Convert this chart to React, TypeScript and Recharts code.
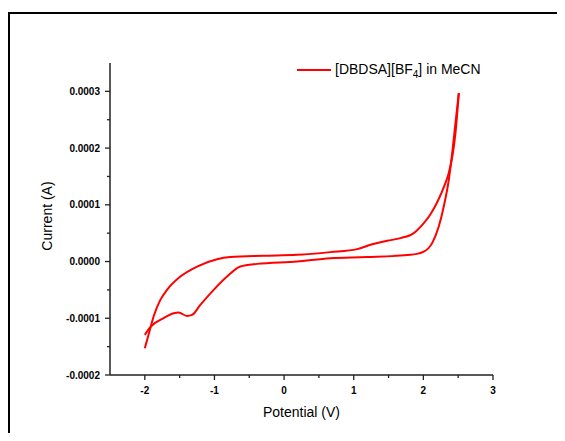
import { LineChart, Line, XAxis, YAxis, Legend } from 'recharts';

// forward-going branch (reaches the anodic tip through the upper curve)
const upperPotential = [-2.0, -1.921, -1.874, -1.777, -1.681, -1.49, -1.25, -0.963, -0.772, -0.297, 0.187, 0.665, 1.049, 1.24, 1.48, 1.671, 1.862, 2.006, 2.1, 2.2, 2.3, 2.365, 2.42, 2.461, 2.509];
const upperCurrent = [-0.0001527, -0.0001175, -0.000097, -0.0000675, -0.0000499, -0.0000265, -0.0000088, 0.0000042, 0.0000078, 0.0000101, 0.0000118, 0.0000166, 0.0000219, 0.0000295, 0.0000365, 0.0000413, 0.0000501, 0.0000677, 0.000083, 0.000105, 0.000133, 0.000156, 0.000188, 0.0002265, 0.000297];

// lower branch with the small cathodic wave near -1.5 V
const lowerPotential = [-2.0, -1.921, -1.73, -1.586, -1.514, -1.394, -1.322, -1.203, -1.011, -0.819, -0.628, -0.388, 0.187, 0.665, 1.193, 1.815, 2.006, 2.126, 2.221, 2.293, 2.365, 2.414, 2.461, 2.509];
const lowerCurrent = [-0.0001293, -0.0001157, -0.0000998, -0.000091, -0.00009, -0.0000958, -0.000094, -0.0000764, -0.0000499, -0.0000265, -0.0000088, -0.0000041, 0.0, 0.000006, 0.0000078, 0.0000118, 0.0000176, 0.0000325, 0.0000617, 0.000097, 0.0001441, 0.0001912, 0.0002441, 0.000297];

const xTicks = [-2.5, -2, -1.5, -1, -0.5, 0, 0.5, 1, 1.5, 2, 2.5, 3];
const yTicks = [-0.0002, -0.00015, -0.0001, -0.00005, 0, 0.00005, 0.0001, 0.00015, 0.0002, 0.00025, 0.0003];

const upperData = upperPotential.map((v, i) => ({ v, i: upperCurrent[i] }));
const lowerData = lowerPotential.map((v, i) => ({ v, i: lowerCurrent[i] }));

const RED = '#ff0000';
const AXIS = '#222';
const FONT = 'Arial, "Liberation Sans", sans-serif';

const XTick = (props: any) => {
    const { x, y, payload } = props;
    const val = payload.value;
    const major = Math.abs(val - Math.round(val)) < 1e-6;
    if (val < -2.4) return null;
    return (
        <g>
            <line x1={x} x2={x} y1={y} y2={y + (major ? 5 : 3)} stroke={AXIS} strokeWidth={1.3} />
            {major && (
                <text x={x} y={y + 15} textAnchor="middle" dominantBaseline="central" fontSize={10} fontWeight="bold" fontFamily={FONT} fill="#000">
                    {val}
                </text>
            )}
        </g>
    );
};

const YTick = (props: any) => {
    const { x, y, payload } = props;
    const val = payload.value;
    const major = Math.round(val * 1e5) % 10 === 0;
    return (
        <g>
            <line x1={x} x2={x - (major ? 5 : 3)} y1={y} y2={y} stroke={AXIS} strokeWidth={1.3} />
            {major && (
                <text x={x - 10} y={y} textAnchor="end" dominantBaseline="central" fontSize={10} fontWeight="bold" fontFamily={FONT} fill="#000">
                    {val.toFixed(4)}
                </text>
            )}
        </g>
    );
};

const LegendBox = () => (
    <div style={{ display: 'flex', alignItems: 'center', fontFamily: FONT, fontSize: 14, color: '#000', whiteSpace: 'nowrap' }}>
        <svg width={34} height={4}>
            <line x1={0} x2={34} y1={2} y2={2} stroke={RED} strokeWidth={2} />
        </svg>
        <span style={{ marginLeft: 4 }}>
            [DBDSA][BF<sub style={{ fontSize: 10 }}>4</sub>] in MeCN
        </span>
    </div>
);

const App = () => {
    return (
        <div style={{ position: 'relative', width: 565, height: 441, margin: -8, overflow: 'hidden', background: 'white' }}>
            <div
                style={{
                    position: 'absolute',
                    left: 8,
                    top: 12,
                    width: 700,
                    height: 600,
                    borderTop: '2px solid #000',
                    borderLeft: '2px solid #000',
                }}
            />
            <div style={{ position: 'absolute', left: 0, top: 0 }}>
                <LineChart width={565} height={441} margin={{ top: 63, right: 72, bottom: 26, left: 40 }}>
                    <XAxis
                        dataKey="v"
                        type="number"
                        domain={[-2.5, 3]}
                        ticks={xTicks}
                        allowDataOverflow
                        interval={0}
                        height={40}
                        tickSize={0}
                        tickMargin={0}
                        tickLine={false}
                        tick={<XTick />}
                        axisLine={{ stroke: AXIS, strokeWidth: 1.5 }}
                        label={{
                            content: (p: any) => (
                                <text
                                    x={p.viewBox.x + p.viewBox.width / 2}
                                    y={412}
                                    textAnchor="middle"
                                    dominantBaseline="central"
                                    fontSize={14}
                                    fontFamily={FONT}
                                    fill="#000">
                                    Potential (V)
                                </text>
                            ),
                        }}
                    />
                    <YAxis
                        type="number"
                        domain={[-0.0002, 0.00035]}
                        ticks={yTicks}
                        allowDataOverflow
                        interval={0}
                        width={70}
                        tickSize={0}
                        tickMargin={0}
                        tickLine={false}
                        tick={<YTick />}
                        axisLine={{ stroke: AXIS, strokeWidth: 1.5 }}
                        label={{
                            content: () => (
                                <text
                                    x={47}
                                    y={216}
                                    transform="rotate(-90 47 216)"
                                    textAnchor="middle"
                                    dominantBaseline="central"
                                    fontSize={14}
                                    fontFamily={FONT}
                                    fill="#000">
                                    Current (A)
                                </text>
                            ),
                        }}
                    />
                    <Legend
                        layout="horizontal"
                        verticalAlign="middle"
                        align="center"
                        content={<LegendBox />}
                        wrapperStyle={{ position: 'absolute', left: 297, top: 61, width: 'auto' }}
                    />
                    <Line
                        data={upperData}
                        dataKey="i"
                        type="monotone"
                        stroke={RED}
                        strokeWidth={2}
                        dot={false}
                        isAnimationActive={false}
                    />
                    <Line
                        data={lowerData}
                        dataKey="i"
                        type="monotone"
                        stroke={RED}
                        strokeWidth={2}
                        dot={false}
                        legendType="none"
                        isAnimationActive={false}
                    />
                </LineChart>
            </div>
            {/* panel label, mostly cropped off the top like in the source figure */}
            <svg style={{ position: 'absolute', left: 0, top: 0 }} width={565} height={20}>
                <text x={287} y={3} textAnchor="middle" fontSize={26} fontFamily={FONT} fill="#000">
                    (a)
                </text>
            </svg>
        </div>
    );
};

export default App;
